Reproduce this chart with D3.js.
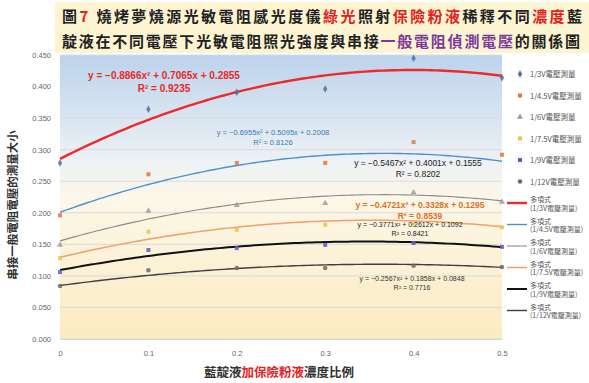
<!DOCTYPE html>
<html>
<head>
<meta charset="utf-8">
<script src="https://cdn.jsdelivr.net/npm/d3@7/dist/d3.min.js"></script>
<style>
  html, body { margin: 0; padding: 0; background: #ffffff; overflow: hidden; }
  svg { display: block; }
</style>
</head>
<body>
<div id="chart"></div>
<script>
// Concentration ratios (x) and measured voltages for each supply voltage
const ratios = [0, 0.1, 0.2, 0.3, 0.4, 0.5];
const seriesNames = ["1/3V電壓測量", "1/4.5V電壓測量", "1/6V電壓測量", "1/7.5V電壓測量", "1/9V電壓測量", "1/12V電壓測量"];
const v1 = [0.279, 0.364, 0.391, 0.396, 0.445, 0.414];
const v2 = [0.196, 0.261, 0.279, 0.279, 0.312, 0.292];
const v3 = [0.149, 0.203, 0.212, 0.215, 0.232, 0.217];
const v4 = [0.128, 0.170, 0.173, 0.181, 0.183, 0.177];
const v5 = [0.106, 0.141, 0.144, 0.149, 0.152, 0.146];
const v6 = [0.084, 0.109, 0.1125, 0.1125, 0.116, 0.114];

// Polynomial trendline coefficients: y = a x² + b x + c
const trendA = [-0.8866, -0.6955, -0.5467, -0.4721, -0.3771, -0.2567];
const trendB = [0.7065, 0.5095, 0.4001, 0.3328, 0.2612, 0.1858];
const trendC = [0.2855, 0.2008, 0.1555, 0.1295, 0.1092, 0.0848];
const trendR2 = [0.9235, 0.8126, 0.8202, 0.8539, 0.8421, 0.7716];

const yTicks = [0, 0.05, 0.1, 0.15, 0.2, 0.25, 0.3, 0.35, 0.4, 0.45];
const xTicks = [0, 0.1, 0.2, 0.3, 0.4, 0.5];

const W = 589, H = 383;
const svg = d3.select("#chart").append("svg").attr("width", W).attr("height", H);
const defs = svg.append("defs");

const x = d3.scaleLinear().domain([0, 0.5]).range([60, 502]);
const y = d3.scaleLinear().domain([0, 0.45]).range([339, 55]);

// plot area background: blue sky fading into cream
const grad = defs.append("linearGradient").attr("id", "plotBg")
  .attr("x1", 0).attr("y1", 0).attr("x2", 0).attr("y2", 1);
[["0%", "#bcd3ec"], ["38%", "#eef2f5"], ["50%", "#fcf7e8"], ["100%", "#fcebc2"]]
  .forEach(([o, c]) => grad.append("stop").attr("offset", o).attr("stop-color", c));

svg.append("rect")
  .attr("x", x(0)).attr("y", y(0.45))
  .attr("width", x(0.5) - x(0)).attr("height", y(0) - y(0.45))
  .attr("fill", "url(#plotBg)");

// horizontal gridlines
svg.append("g").selectAll("line").data(yTicks).join("line")
  .attr("x1", x(0)).attr("x2", x(0.5))
  .attr("y1", d => y(d)).attr("y2", d => y(d))
  .attr("stroke", "#dadada").attr("stroke-width", 1);

// axes
const fontAxis = "'Liberation Sans', Arial, sans-serif";
const yAxis = svg.append("g").attr("transform", `translate(${x(0)},0)`)
  .call(d3.axisLeft(y).tickValues(yTicks).tickFormat(d3.format(".3f")).tickSize(0).tickPadding(9));
yAxis.select(".domain").remove();
yAxis.selectAll("text").attr("fill", "#666").style("font-family", fontAxis).style("font-size", "7.5px");

const xAxis = svg.append("g").attr("transform", `translate(0,${y(0)})`)
  .call(d3.axisBottom(x).tickValues(xTicks).tickFormat(d => d === 0 ? "0" : d3.format(".1f")(d)).tickSize(0).tickPadding(12));
xAxis.select(".domain").attr("stroke", "#d6d6d6");
xAxis.selectAll("text").attr("fill", "#666").style("font-family", fontAxis).style("font-size", "7.5px");

// trendlines
const trendStyles = [
  { color: "#ee2a2a", width: 2.4 },
  { color: "#4f8fcf", width: 1.4 },
  { color: "#8a8a8a", width: 1.1 },
  { color: "#f0a068", width: 1.5 },
  { color: "#111111", width: 2.0 },
  { color: "#3f3f3f", width: 1.4 }
];
const sampleX = d3.range(0, 0.5001, 0.005);
const line = d3.line().x(d => x(d[0])).y(d => y(d[1]));
trendA.forEach((a, i) => {
  const pts = sampleX.map(t => [t, a * t * t + trendB[i] * t + trendC[i]]);
  svg.append("path").attr("d", line(pts)).attr("fill", "none")
    .attr("stroke", trendStyles[i].color).attr("stroke-width", trendStyles[i].width);
});

// data markers
const allSeries = [v1, v2, v3, v4, v5, v6];
const markerColors = ["#4a6fa5", "#e0773a", "#9c9c9c", "#e8c34a", "#5a5fc8", "#6b6b6b"];
const markerTypes = [d3.symbolDiamond, d3.symbolSquare, d3.symbolTriangle, d3.symbolSquare, d3.symbolSquare, d3.symbolCircle];
allSeries.forEach((vals, i) => {
  svg.append("g").selectAll("path").data(vals).join("path")
    .attr("transform", (d, j) => `translate(${x(ratios[j])},${y(d)})`)
    .attr("d", d3.symbol().type(markerTypes[i]).size(16))
    .attr("fill", markerColors[i]).attr("fill-opacity", 0.85);
});

// trendline equation labels
const fmt = d3.format(".4f");
const eqText = i => `y = ${fmt(trendA[i])}x² + ${fmt(trendB[i])}x + ${fmt(trendC[i])}`;
const eqLabels = [
  { cx: 164, cy: 79, size: 10, color: "#e8282a", weight: "bold" },
  { cx: 273, cy: 135, size: 7.5, color: "#3a78b8", weight: "normal" },
  { cx: 418, cy: 166, size: 8.5, color: "#222", weight: "normal" },
  { cx: 420, cy: 208, size: 8.5, color: "#e0701e", weight: "bold" },
  { cx: 410, cy: 227, size: 7, color: "#222", weight: "normal" },
  { cx: 412, cy: 281, size: 7, color: "#333", weight: "normal" }
];
eqLabels.forEach((l, i) => {
  const g = svg.append("g").attr("fill", l.color).attr("text-anchor", "middle")
    .style("font-family", fontAxis).style("font-size", l.size + "px").style("font-weight", l.weight);
  g.append("text").attr("x", l.cx).attr("y", l.cy).text(eqText(i));
  g.append("text").attr("x", l.cx).attr("y", l.cy + l.size * 1.3).text(`R² = ${fmt(trendR2[i])}`);
});

// legend: marker entries, then trendline entries (name wrapped under "多項式")
const legend = svg.append("g").style("font-family", "'Noto Sans CJK TC', sans-serif");
const legendY0 = 74, legendStep = 21.5;
seriesNames.forEach((name, i) => {
  const ly = legendY0 + i * legendStep;
  legend.append("path").attr("transform", `translate(520,${ly})`)
    .attr("d", d3.symbol().type(markerTypes[i]).size(16)).attr("fill", markerColors[i]);
  legend.append("text").attr("x", 530).attr("y", ly + 3).attr("fill", "#555")
    .style("font-size", "7.5px").text(name);
});
seriesNames.forEach((name, i) => {
  const ly = legendY0 + (i + 6) * legendStep;
  legend.append("line").attr("x1", 507).attr("x2", 527).attr("y1", ly).attr("y2", ly)
    .attr("stroke", trendStyles[i].color).attr("stroke-width", trendStyles[i].width);
  const t = legend.append("text").attr("fill", "#555").style("font-size", "7px");
  t.append("tspan").attr("x", 530).attr("y", ly - 1).text("多項式");
  t.append("tspan").attr("x", 530).attr("y", ly + 7.5).text(`(${name})`);
});

// title box
svg.append("rect").attr("x", 55).attr("y", 2).attr("width", W - 55).attr("height", 51)
  .attr("fill", "#fdf5d2");
const titleFont = "'Noto Sans CJK TC', sans-serif";
const title1 = [
  ["圖", "#222"], ["7", "#e62020"], [" 燒烤夢燒源光敏電阻感光度儀", "#222"],
  ["綠光", "#e62020"], ["照射", "#222"], ["保險粉液", "#e62020"],
  ["稀釋不同", "#222"], ["濃度", "#e62020"], ["藍", "#222"]
];
const title2 = [
  ["靛液在不同電壓下光敏電阻照光強度與串接", "#222"],
  ["一般電阻偵測電壓", "#7a3a9a"], ["的關係圖", "#222"]
];
function titleLine(parts, yy, len) {
  const t = svg.append("text").attr("x", 62).attr("y", yy)
    .attr("textLength", len).attr("lengthAdjust", "spacing")
    .style("font-family", titleFont).style("font-size", "15px").style("font-weight", "bold");
  parts.forEach(([s, c]) => t.append("tspan").attr("fill", c).text(s));
}
titleLine(title1, 22, 520);
titleLine(title2, 47, 518);

// axis titles
svg.append("text")
  .attr("transform", `translate(17,${(y(0) + y(0.45)) / 2 + 8}) rotate(-90)`)
  .attr("text-anchor", "middle").attr("fill", "#333")
  .style("font-family", titleFont).style("font-size", "11.5px").style("font-weight", "bold")
  .text("串接一般電阻電壓的測量大小");

const xTitle = svg.append("text").attr("x", 279).attr("y", 377).attr("text-anchor", "middle")
  .style("font-family", titleFont).style("font-size", "12.5px").style("font-weight", "bold");
[["藍靛液", "#333"], ["加保險粉液", "#e62020"], ["濃度比例", "#333"]]
  .forEach(([s, c]) => xTitle.append("tspan").attr("fill", c).text(s));
</script>
</body>
</html>
